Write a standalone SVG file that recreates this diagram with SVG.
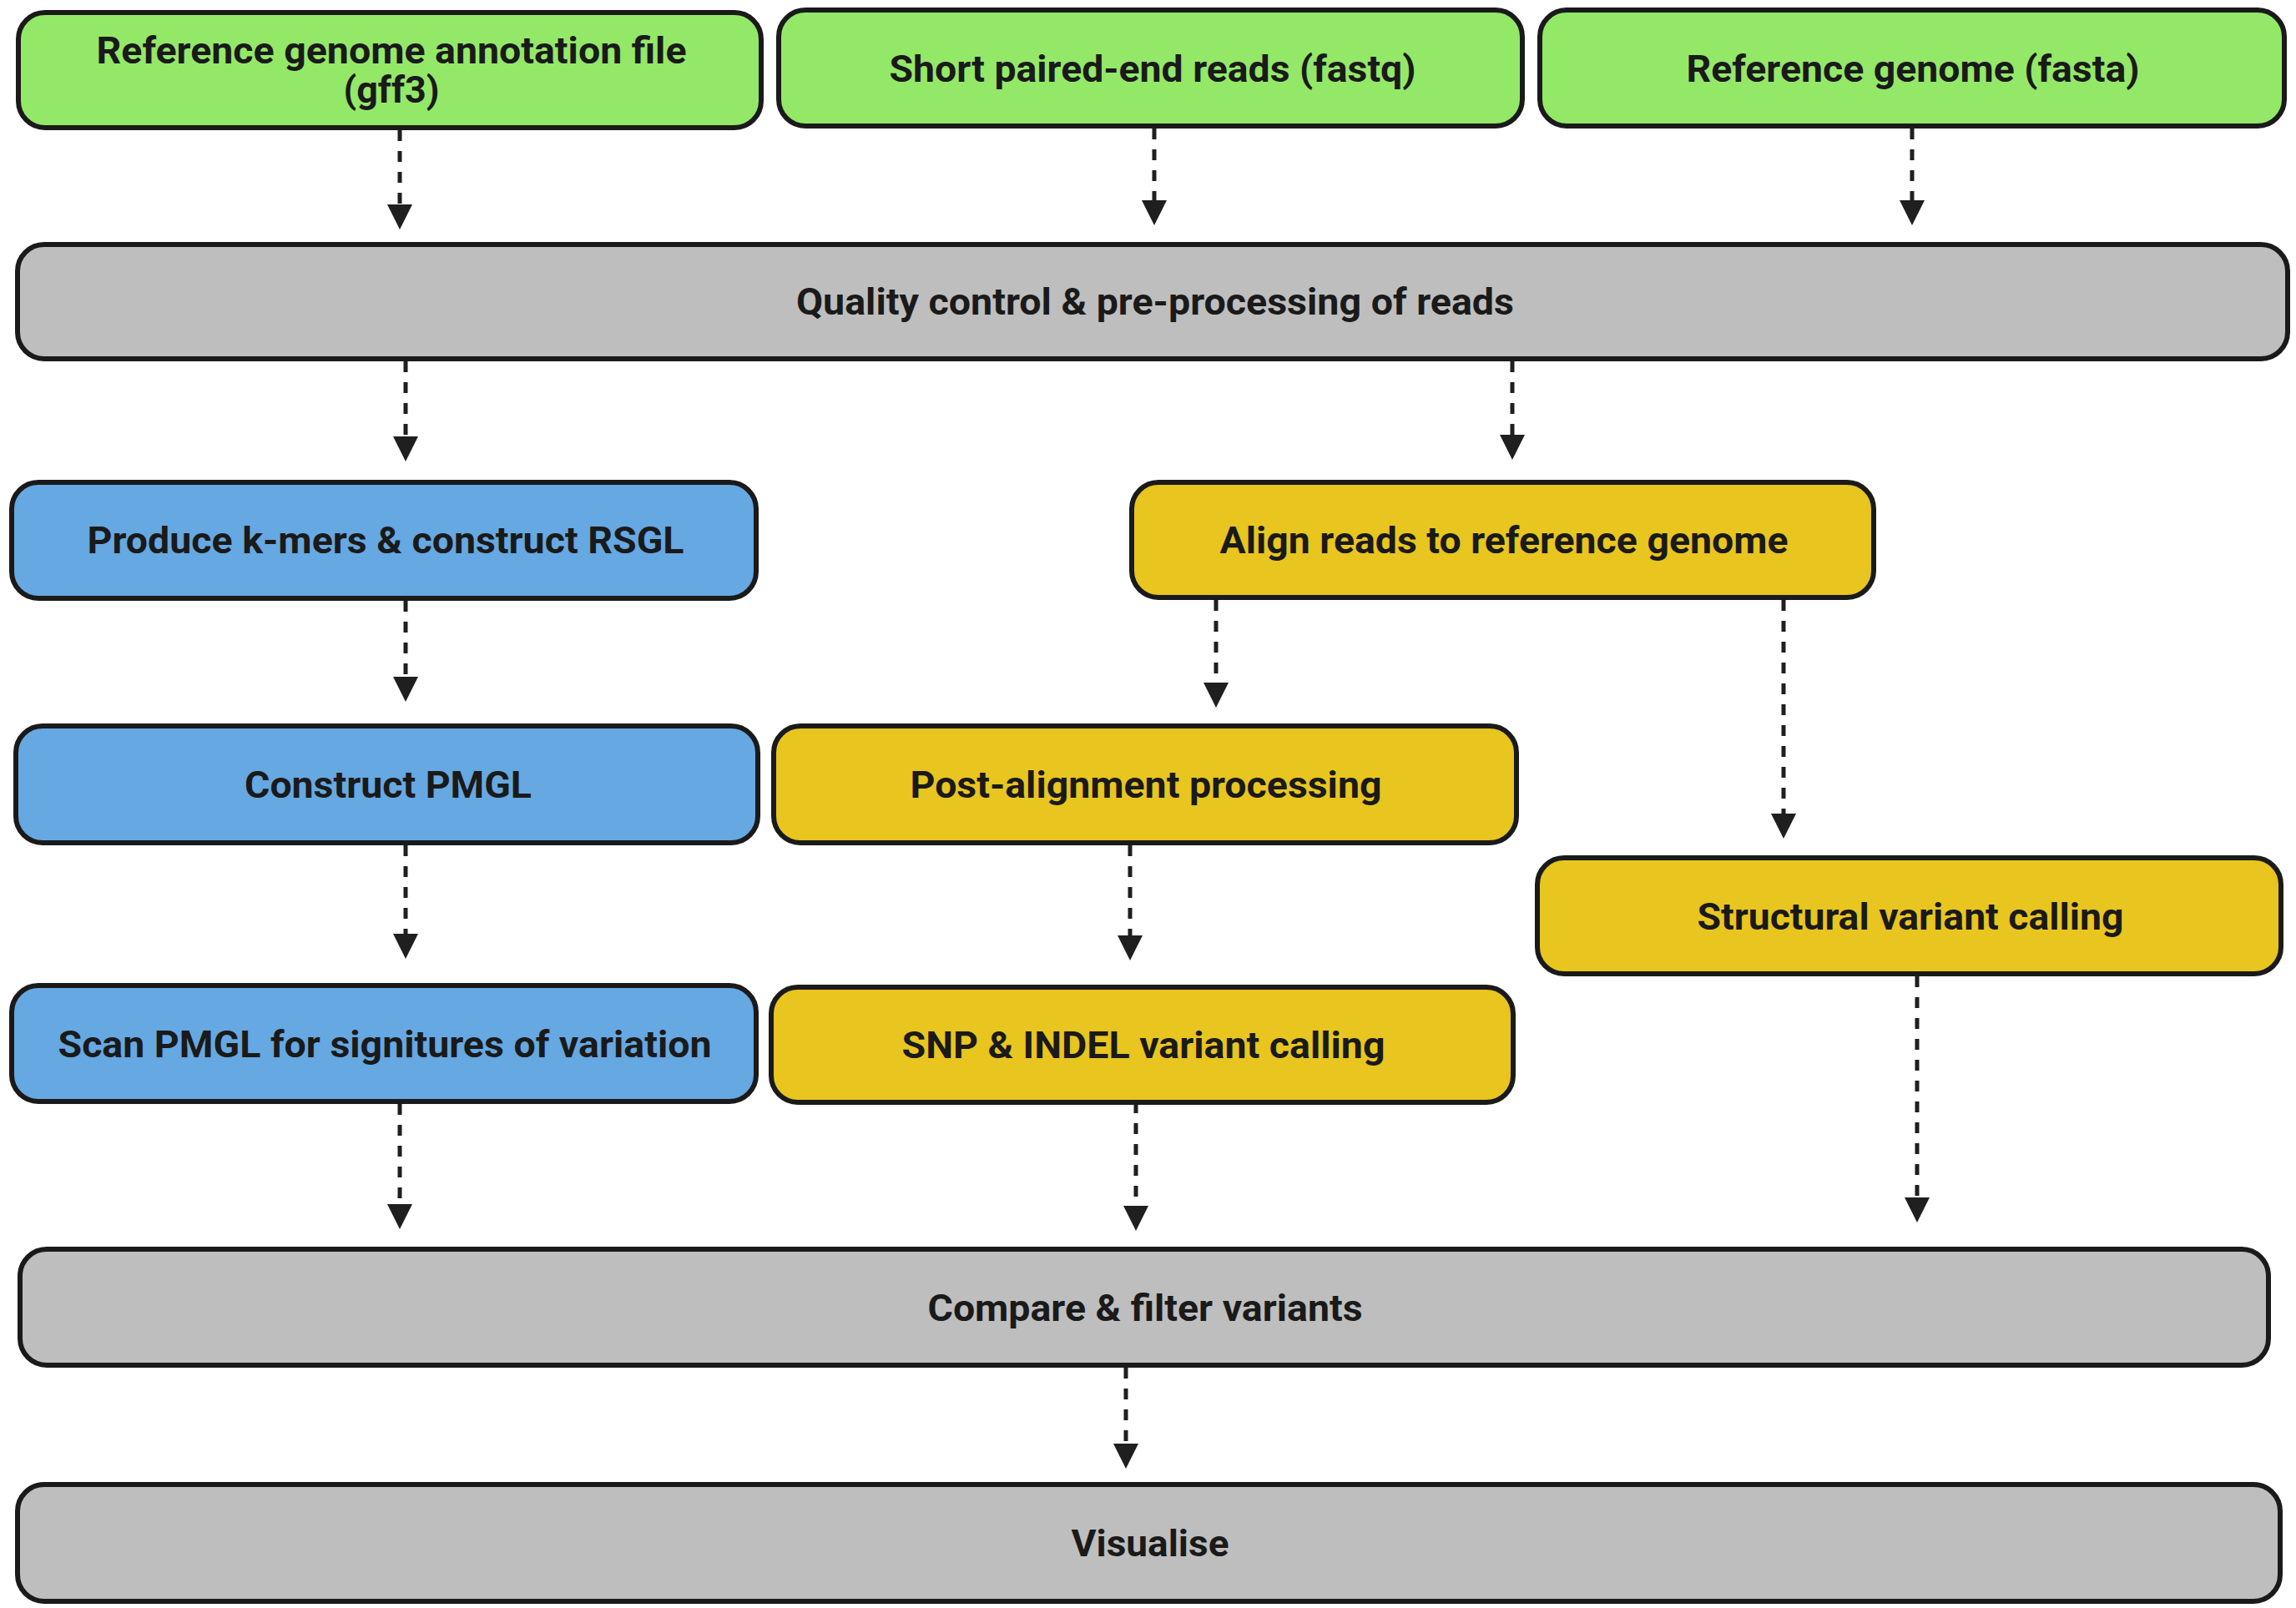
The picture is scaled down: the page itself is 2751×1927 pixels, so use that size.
<svg xmlns="http://www.w3.org/2000/svg" width="2751" height="1927" viewBox="0 0 2751 1927">
<style>
.box{stroke:#1a1a1a;stroke-width:6}
.g{fill:#94e868}.gr{fill:#bebebe}.b{fill:#66a8e2}.y{fill:#e8c51f}
.t{font-family:Roboto,"Liberation Sans",sans-serif;font-weight:700;font-size:44px;fill:#1a1a1a;text-anchor:middle}
.c{fill:none;stroke:#1f1f1f;stroke-width:5;stroke-dasharray:13 12}
</style>
<defs>
<marker id="ah" viewBox="0 0 30 30" markerUnits="userSpaceOnUse" markerWidth="30" markerHeight="30" refX="20" refY="15" orient="auto">
<path d="M0,0 L30,15 L0,30 z" fill="#1f1f1f"/>
</marker>
</defs>
<rect width="2751" height="1927" fill="#fff"/>
<g id="connectors">
<path class="c" marker-end="url(#ah)" d="M479,156 V265"/>
<path class="c" marker-end="url(#ah)" d="M1383,154 V260"/>
<path class="c" marker-end="url(#ah)" d="M2291,154 V260"/>
<path class="c" marker-end="url(#ah)" d="M486,433 V543"/>
<path class="c" marker-end="url(#ah)" d="M1812,433 V541"/>
<path class="c" marker-end="url(#ah)" d="M486,720 V831"/>
<path class="c" marker-end="url(#ah)" d="M1457,719 V838"/>
<path class="c" marker-end="url(#ah)" d="M2137,719 V995"/>
<path class="c" marker-end="url(#ah)" d="M486,1013 V1139"/>
<path class="c" marker-end="url(#ah)" d="M1354,1013 V1141"/>
<path class="c" marker-end="url(#ah)" d="M479,1323 V1463"/>
<path class="c" marker-end="url(#ah)" d="M1361,1321 V1465"/>
<path class="c" marker-end="url(#ah)" d="M2297,1170 V1455"/>
<path class="c" marker-end="url(#ah)" d="M1349,1639 V1750"/>
</g>
<g id="n-annotation"><rect class="box g" x="22" y="15" width="890" height="138" rx="32"/>
<text class="t" x="469" y="76" font-size="40" textLength="707" lengthAdjust="spacingAndGlyphs">Reference genome annotation file</text>
<text class="t" x="469" y="123" font-size="40" textLength="115" lengthAdjust="spacingAndGlyphs">(gff3)</text></g>
<g id="n-fastq"><rect class="box g" x="933" y="12" width="891" height="139" rx="32"/>
<text class="t" x="1381" y="98" textLength="631" lengthAdjust="spacingAndGlyphs">Short paired-end reads (fastq)</text></g>
<g id="n-fasta"><rect class="box g" x="1845" y="12" width="892" height="139" rx="32"/>
<text class="t" x="2292" y="98" textLength="543" lengthAdjust="spacingAndGlyphs">Reference genome (fasta)</text></g>
<g id="n-qc"><rect class="box gr" x="21" y="293" width="2720" height="137" rx="32"/>
<text class="t" x="1384" y="377" textLength="860" lengthAdjust="spacingAndGlyphs">Quality control &amp; pre-processing of reads</text></g>
<g id="n-kmers"><rect class="box b" x="14" y="578" width="892" height="139" rx="32"/>
<text class="t" x="462" y="663" textLength="715" lengthAdjust="spacingAndGlyphs">Produce k-mers &amp; construct RSGL</text></g>
<g id="n-align"><rect class="box y" x="1356" y="578" width="889" height="138" rx="32"/>
<text class="t" x="1802" y="663" textLength="681" lengthAdjust="spacingAndGlyphs">Align reads to reference genome</text></g>
<g id="n-pmgl"><rect class="box b" x="19" y="870" width="889" height="140" rx="32"/>
<text class="t" x="465" y="956" textLength="344" lengthAdjust="spacingAndGlyphs">Construct PMGL</text></g>
<g id="n-post"><rect class="box y" x="927" y="870" width="890" height="140" rx="32"/>
<text class="t" x="1373" y="956" textLength="565" lengthAdjust="spacingAndGlyphs">Post-alignment processing</text></g>
<g id="n-sv"><rect class="box y" x="1842" y="1028" width="891" height="139" rx="32"/>
<text class="t" x="2289" y="1114" textLength="511" lengthAdjust="spacingAndGlyphs">Structural variant calling</text></g>
<g id="n-scan"><rect class="box b" x="14" y="1181" width="892" height="139" rx="32"/>
<text class="t" x="461" y="1267" textLength="783" lengthAdjust="spacingAndGlyphs">Scan PMGL for signitures of variation</text></g>
<g id="n-snp"><rect class="box y" x="924" y="1183" width="889" height="138" rx="32"/>
<text class="t" x="1370" y="1268" textLength="579" lengthAdjust="spacingAndGlyphs">SNP &amp; INDEL variant calling</text></g>
<g id="n-compare"><rect class="box gr" x="24" y="1497" width="2694" height="139" rx="32"/>
<text class="t" x="1372" y="1583" textLength="521" lengthAdjust="spacingAndGlyphs">Compare &amp; filter variants</text></g>
<g id="n-visualise"><rect class="box gr" x="21" y="1779" width="2711" height="140" rx="32"/>
<text class="t" x="1378" y="1865" textLength="189" lengthAdjust="spacingAndGlyphs">Visualise</text></g>
</svg>
